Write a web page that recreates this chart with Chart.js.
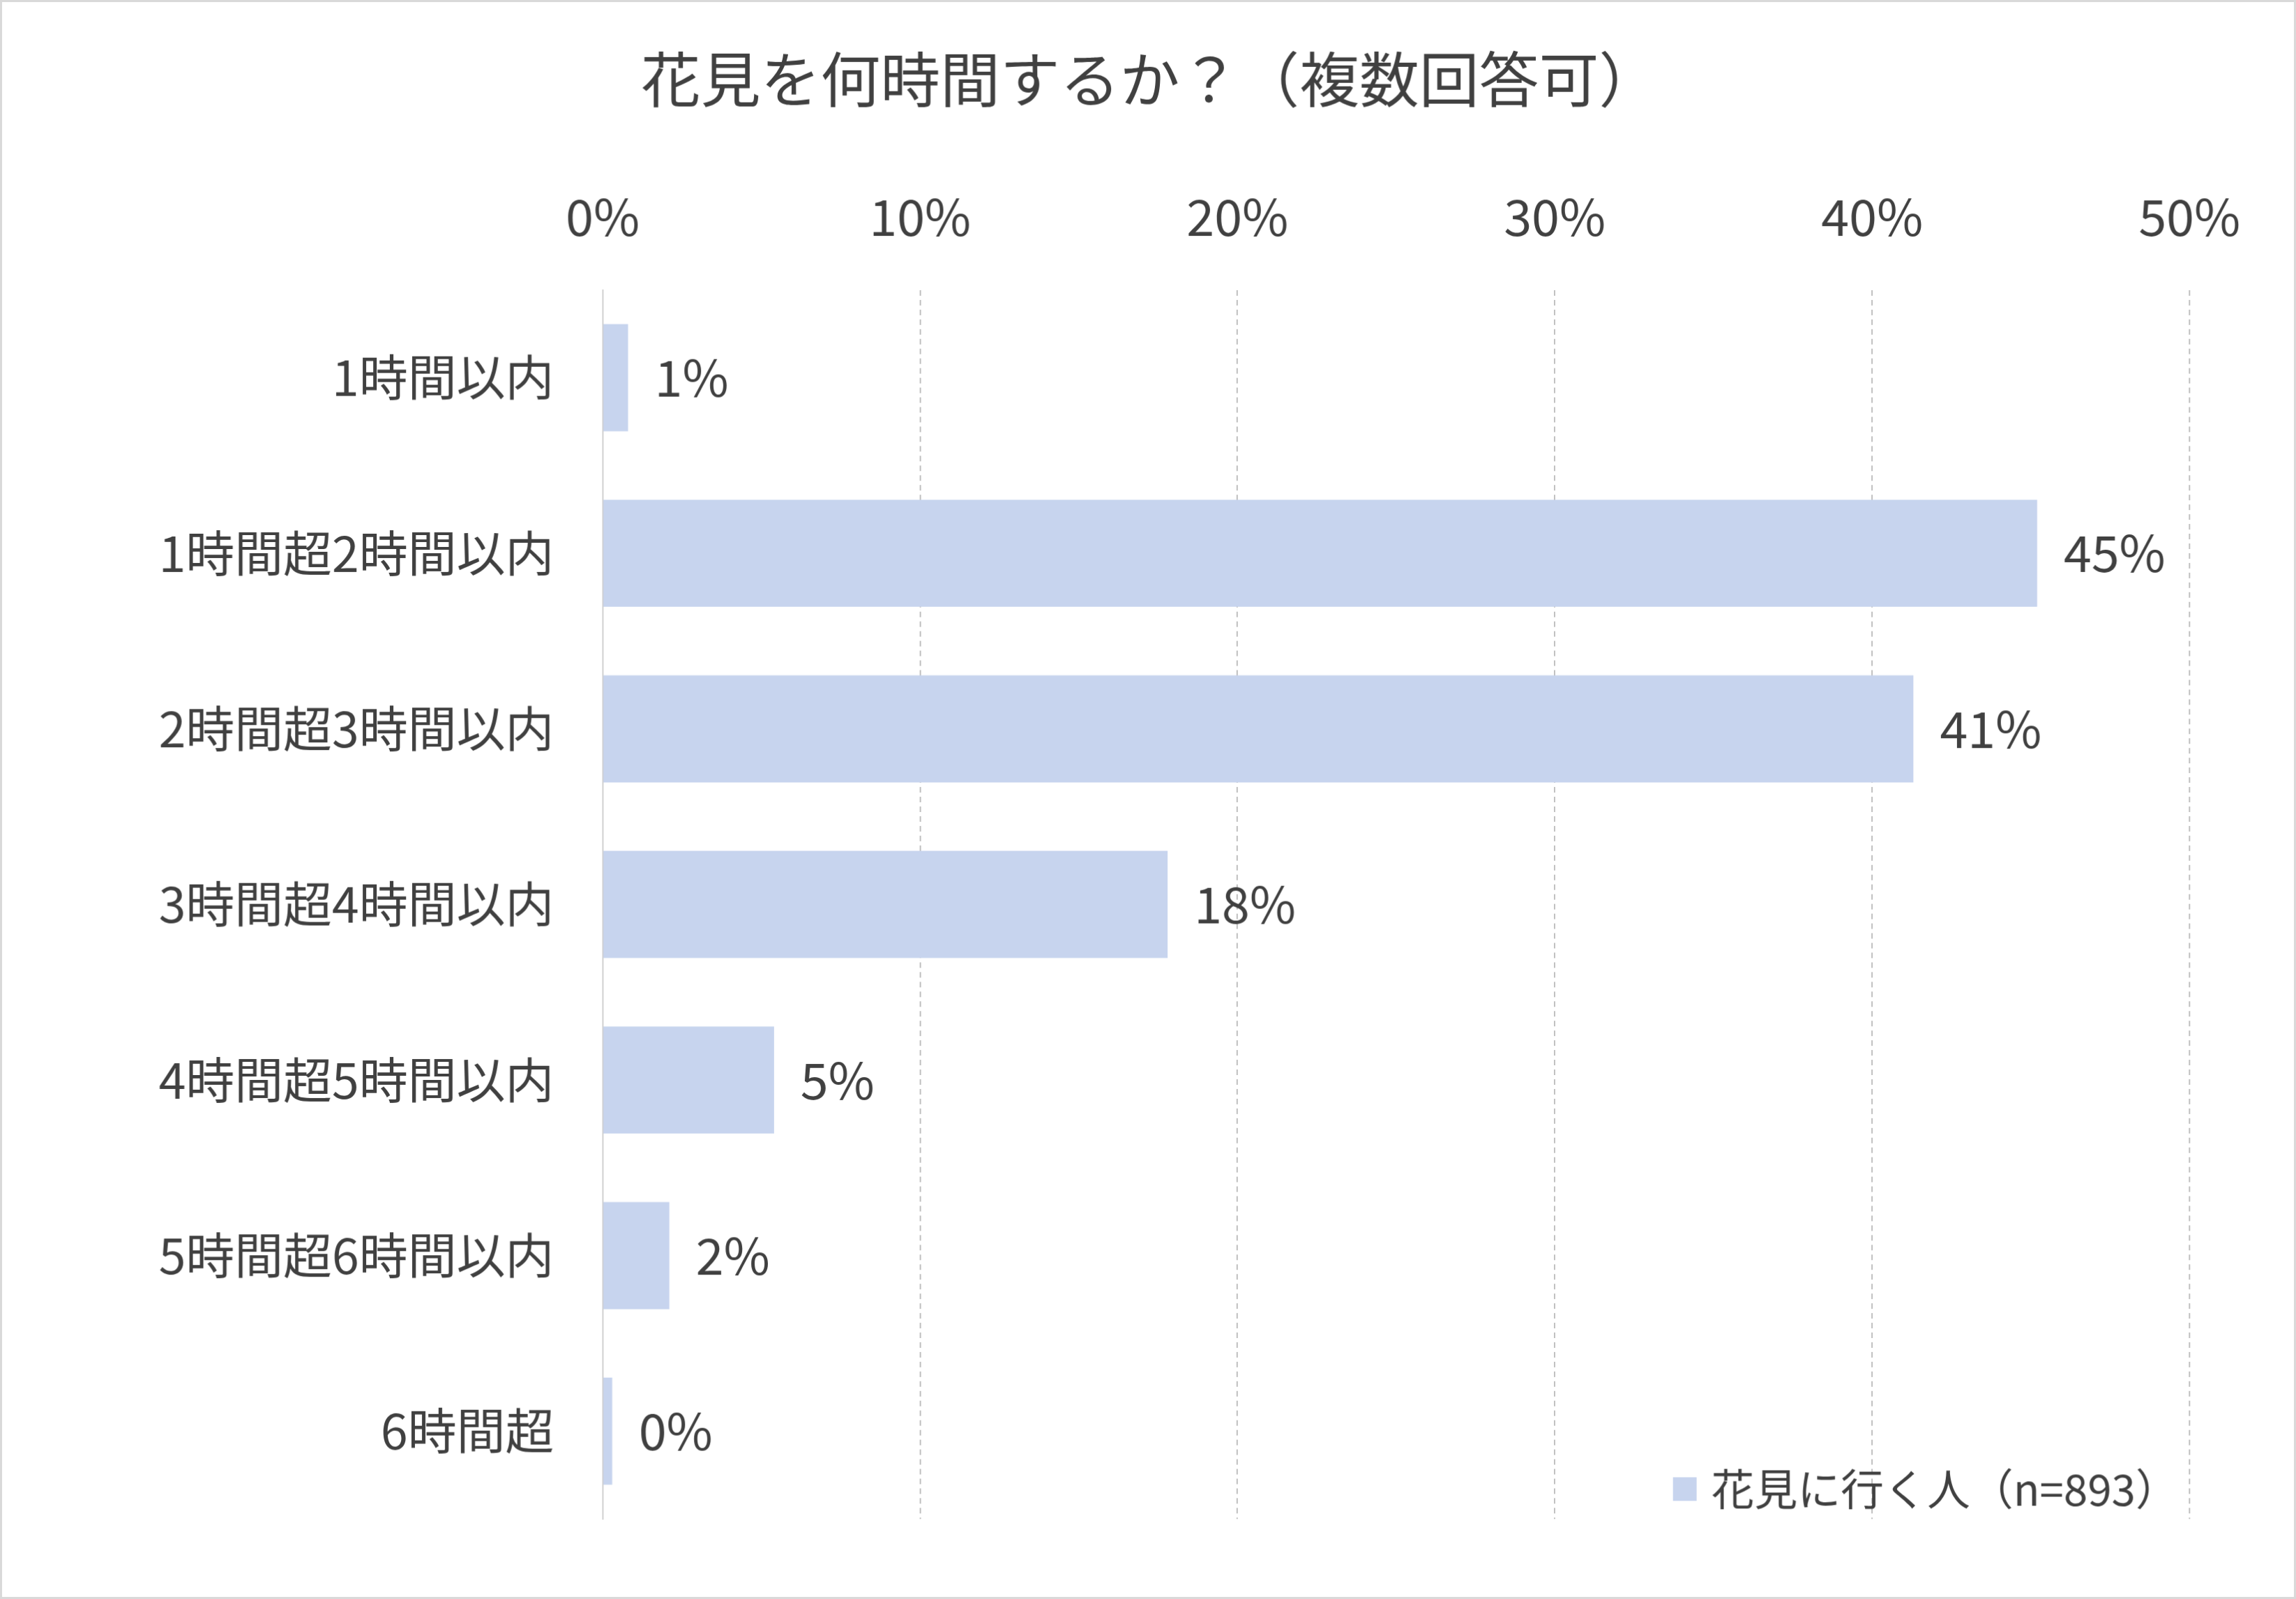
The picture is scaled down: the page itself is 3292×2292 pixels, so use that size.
<!DOCTYPE html>
<html><head><meta charset="utf-8">
<script src="https://cdn.jsdelivr.net/npm/chart.js@4.4.0/dist/chart.umd.min.js"></script>
<style>
body{margin:0;background:#fff}
canvas{display:block;border:3px solid #d9d9d9;box-sizing:border-box}
</style></head>
<body>
<canvas id="c" width="3292" height="2292"></canvas>
<script>
var categories=['1時間以内','1時間超2時間以内','2時間超3時間以内','3時間超4時間以内','4時間超5時間以内','5時間超6時間以内','6時間超'];
var values=[0.8,45.2,41.3,17.8,5.4,2.1,0.3];
var seriesName='花見に行く人（n=893）';
var FONT="'Noto Sans CJK JP', 'Noto Sans', sans-serif";
var TXT='#404040';

// value labels + legend in the lower right
var extras={
  id:'extras',
  afterDatasetsDraw:function(chart){
    var c=chart.ctx, meta=chart.getDatasetMeta(0);
    c.save();
    c.font='72px '+FONT; c.fillStyle=TXT; c.textBaseline='middle'; c.textAlign='left';
    meta.data.forEach(function(bar,i){
      c.fillText(Math.round(values[i])+'%',bar.x+38,bar.y);
    });
    c.fillStyle='#c7d4ee';
    c.fillRect(2400,2120,34,34);
    c.fillStyle=TXT; c.font='62px '+FONT;
    c.fillText(seriesName,2455,2137);
    c.restore();
  }
};

new Chart(document.getElementById('c').getContext('2d'),{
  type:'bar',
  data:{labels:categories,datasets:[{label:seriesName,data:values,backgroundColor:'#c7d4ee',categoryPercentage:1,barPercentage:0.61}]},
  options:{
    indexAxis:'y',responsive:false,animation:false,devicePixelRatio:1,
    layout:{padding:{top:10,left:155,right:150,bottom:70}},
    plugins:{
      legend:{display:false},tooltip:{enabled:false},
      title:{display:true,text:'花見を何時間するか？（複数回答可）',color:TXT,font:{family:FONT,size:86,weight:'normal'},padding:{top:50,bottom:40}}
    },
    scales:{
      x:{position:'top',min:0,max:50,
        ticks:{stepSize:10,callback:function(v){return v+'%';},color:TXT,font:{family:FONT,size:72},padding:62},
        grid:{color:'#bfbfbf',lineWidth:2,drawTicks:false},
        border:{display:false,dash:[8,6]}
      },
      y:{
        ticks:{color:TXT,font:{family:FONT,size:70},padding:70},
        grid:{display:false,drawTicks:false},
        border:{color:'#d0d0d0',width:2}
      }
    }
  },
  plugins:[extras]
});
</script>
</body></html>
